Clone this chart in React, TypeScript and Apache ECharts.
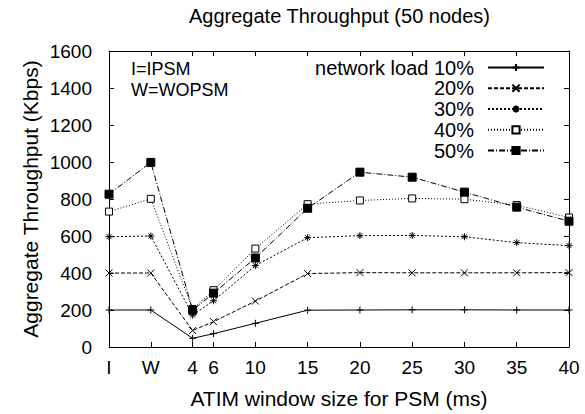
import React, { useEffect, useRef } from "react";
import * as echarts from "echarts";

const xValues = [-4, 0, 4, 6, 10, 15, 20, 25, 30, 35, 40];
const xTickLabels = ["I", "W", "4", "6", "10", "15", "20", "25", "30", "35", "40"];
const seriesNames = ["network load 10%", "20%", "30%", "40%", "50%"];
const load10 = [200, 200, 47, 72, 128, 199, 200, 201, 201, 200, 200];
const load20 = [400, 400, 89, 137, 248, 397, 402, 401, 401, 401, 402];
const load30 = [596, 600, 172, 250, 440, 591, 602, 603, 596, 564, 548];
const load40 = [732, 801, 205, 307, 532, 772, 792, 803, 799, 767, 700];
const load50 = [826, 998, 199, 291, 481, 750, 945, 918, 837, 756, 680];
const yTicks = [0, 200, 400, 600, 800, 1000, 1200, 1400, 1600];
const noteLines = ["I=IPSM", "W=WOPSM"];

const FONT = "'Liberation Sans', Arial, Helvetica, sans-serif";

const PLUS = "path://M0,5 L10,5 M5,0 L5,10";
const CROSS = "path://M0,0 L10,10 M0,10 L10,0";
const STAR = "path://M0,5 L10,5 M5,0 L5,10 M1.5,1.5 L8.5,8.5 M1.5,8.5 L8.5,1.5";

export default function App() {
  const ref = useRef<HTMLDivElement>(null);
  useEffect(() => {
    if (!ref.current) return;
    const chart = echarts.init(ref.current, null, { renderer: "svg" });
    const allLoads = [load10, load20, load30, load40, load50];
    const styles = [
      { symbol: PLUS, size: 7, dash: "solid" as any, fill: "#000" },
      { symbol: CROSS, size: 7, dash: [4, 2], fill: "#000" },
      { symbol: STAR, size: 7, dash: [2, 2], fill: "#000" },
      { symbol: "rect", size: 7, dash: [1, 2], fill: "#fff" },
      { symbol: "rect", size: 8, dash: [6, 2, 1, 2], fill: "#000" },
    ];
    const rowCenters = [67, 87.7, 108.5, 129.3, 150];
    const series = allLoads.map((vals, i) => ({
      name: seriesNames[i],
      type: "line",
      xAxisIndex: 0,
      yAxisIndex: 0,
      data: vals.map((v, j) => [xValues[j], v]),
      symbol: styles[i].symbol,
      symbolSize: styles[i].size,
      showSymbol: true,
      lineStyle: { color: "#000", width: 1, type: styles[i].dash },
      itemStyle: { color: styles[i].fill, borderColor: "#000", borderWidth: 1 },
      emphasis: { disabled: true },
      z: 2 + i,
    }));
    const legends = seriesNames.map((n, i) => ({
      data: [n],
      orient: "vertical",
      align: "right",
      right: 40,
      top: rowCenters[i] - 9.5,
      padding: 0,
      itemWidth: 56,
      itemHeight: 9,
      selectedMode: false,
      textStyle: {
        fontFamily: FONT,
        fontSize: 20,
        color: "#000",
        lineHeight: 19,
        padding: [0, 9, 0, 0],
      },
    }));
    const tickAxis = {
      axisLine: { show: true, onZero: false, lineStyle: { color: "#000", width: 1 } },
      axisTick: { show: true, inside: true, length: 5, lineStyle: { color: "#000" } },
      splitLine: { show: false },
    };
    chart.setOption({
      animation: false,
      backgroundColor: "#fff",
      title: {
        text: "Aggregate Throughput (50 nodes)",
        left: 189,
        top: 6,
        padding: 0,
        textStyle: { fontFamily: FONT, fontSize: 20, fontWeight: "normal", color: "#000" },
      },
      legend: legends,
      grid: { left: 109, right: 16, top: 51, bottom: 66, containLabel: false },
      xAxis: [
        {
          type: "value",
          min: -4,
          max: 40,
          position: "bottom",
          name: "ATIM window size for PSM (ms)",
          nameLocation: "middle",
          nameGap: 41,
          nameMoveOverlap: false,
          nameTextStyle: { fontFamily: FONT, fontSize: 21, color: "#000" },
          ...tickAxis,
          axisTick: { ...tickAxis.axisTick, customValues: xValues },
          axisLabel: {
            customValues: xValues,
            margin: 11,
            fontFamily: FONT,
            fontSize: 19,
            color: "#000",
            formatter: (v: number) => xTickLabels[xValues.indexOf(v)] ?? "",
          },
        },
        {
          type: "value",
          min: -4,
          max: 40,
          position: "top",
          ...tickAxis,
          axisTick: { ...tickAxis.axisTick, customValues: xValues },
          axisLabel: { show: false },
        },
      ],
      yAxis: [
        {
          type: "value",
          min: 0,
          max: 1600,
          interval: 200,
          position: "left",
          name: "Aggregate Throughput (Kbps)",
          nameLocation: "middle",
          nameGap: 68,
          nameMoveOverlap: false,
          nameTextStyle: { fontFamily: FONT, fontSize: 21, color: "#000" },
          ...tickAxis,
          axisLabel: {
            margin: 17,
            fontFamily: FONT,
            fontSize: 19,
            color: "#000",
            customValues: yTicks,
            formatter: (v: number) => String(v),
          },
        },
        {
          type: "value",
          min: 0,
          max: 1600,
          interval: 200,
          position: "right",
          ...tickAxis,
          axisLabel: { show: false },
        },
      ],
      graphic: noteLines.map((t, i) => ({
        type: "text",
        left: 131,
        top: 60 + i * 20.5,
        style: {
          text: t,
          fontFamily: FONT,
          fontSize: 18,
          lineHeight: 18,
          fill: "#000",
        },
      })),
      series,
    });
    return () => chart.dispose();
  }, []);
  return (
    <div
      ref={ref}
      style={{ position: "fixed", left: 0, top: 0, width: 585, height: 414 }}
    />
  );
}
